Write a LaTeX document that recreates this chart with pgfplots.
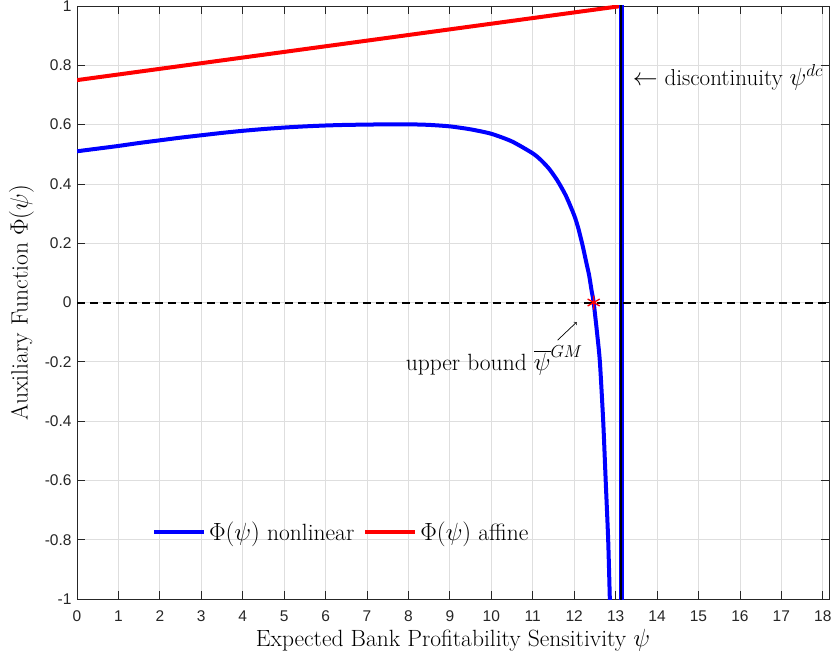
\documentclass[border=0pt]{standalone}
\usepackage{fontspec}
\newfontfamily\arialf{Liberation Sans}
\usepackage{pgfplots}
\pgfplotsset{compat=1.18}
\newcommand{\lbl}{\fontsize{23.5}{27}\selectfont}
\begin{document}
\begin{tikzpicture}
\useasboundingbox (-77pt,-58pt) rectangle (757pt,599pt);
\begin{axis}[
  at={(0pt,0pt)}, anchor=south west,
  scale only axis, width=752pt, height=593pt,
  xmin=0, xmax=18.15, ymin=-1, ymax=1,
  xtick={0,1,...,18},
  ytick={-1,-0.8,-0.6,-0.4,-0.2,0,0.2,0.4,0.6,0.8,1},
  yticklabels={-1,-0.8,-0.6,-0.4,-0.2,0,0.2,0.4,0.6,0.8,1},
  /pgf/number format/assume math mode=true,
  ticklabel style={font=\fontsize{15.5}{18}\selectfont\arialf, text=black!85},
  xticklabel style={yshift=-8pt},
  yticklabel style={xshift=-2pt},
  grid=major,
  major grid style={line width=0.8pt, black!13},
  axis line style={black!85, line width=0.8pt},
  major tick length=8pt,
  tick style={black!85, line width=0.8pt},
  xlabel={Expected Bank Profitability Sensitivity $\psi$},
  ylabel={Auxiliary Function $\Phi(\psi)$},
  label style={font=\lbl},
  xlabel style={at={(axis description cs:0.5,0)}, anchor=base, yshift=-47pt},
  ylabel style={at={(axis description cs:-0.074,0.5)}, anchor=center},
  legend columns=2,
  legend style={at={(rel axis cs:0.352,0.113)}, anchor=center, draw=none, fill=none,
    font=\lbl, /tikz/every even column/.append style={column sep=6pt},
    nodes={inner sep=3pt}},
  legend image code/.code={\draw[#1] (0pt,0pt) -- (50pt,0pt);},
]
\addplot[blue, line width=4pt, smooth, tension=0.4] coordinates {
(0,0.510) (0.5,0.519) (1,0.528) (1.5,0.538) (2,0.547) (2.5,0.556) (3,0.564)
(3.5,0.572) (4,0.579) (4.5,0.585) (5,0.590) (5.5,0.594) (6,0.597) (6.5,0.599)
(7,0.600) (7.5,0.601) (8,0.601) (8.5,0.599) (9,0.594) (9.5,0.584) (10,0.569)
(10.5,0.543) (11,0.503) (11.2,0.480) (11.4,0.450) (11.6,0.410) (11.8,0.360)
(12,0.294) (12.1,0.250) (12.2,0.194) (12.3,0.130) (12.36,0.092) (12.42,0.040)
(12.47,0) (12.55,-0.10) (12.62,-0.20) (12.70,-0.40) (12.76,-0.60) (12.82,-0.80)
(12.86,-1.00) (12.87,-1.05)
};
\addlegendentry{$\Phi(\psi)$ nonlinear}
\addplot[red, line width=4pt] coordinates {(0,0.75) (13.14,1)};
\addlegendentry{$\Phi(\psi)$ affine}
\addplot[blue, line width=5pt, forget plot] coordinates {(13.14,-1.05) (13.14,1.05)};
\addplot[black, line width=2pt, forget plot] coordinates {(13.14,-1.05) (13.14,1.05)};
\addplot[black, line width=2pt, dash pattern=on 8pt off 5pt, forget plot] coordinates {(0,0) (18.15,0)};
\addplot[red, only marks, mark=asterisk, mark size=7pt, line width=1.3pt, forget plot] coordinates {(12.47,0)};
\node[anchor=base west, font=\lbl, inner sep=0pt] at (axis cs:7.93,-0.228) {upper bound $\overline{\psi}^{GM}$};
\draw[->, line width=0.7pt] (axis cs:11.6,-0.127) -- (axis cs:12.06,-0.066);
\node[anchor=base west, font=\fontsize{23}{27}\selectfont, inner sep=0pt] at (axis cs:13.41,0.733) {$\leftarrow$ discontinuity $\psi^{dc}$};
\end{axis}
\end{tikzpicture}
\end{document}
